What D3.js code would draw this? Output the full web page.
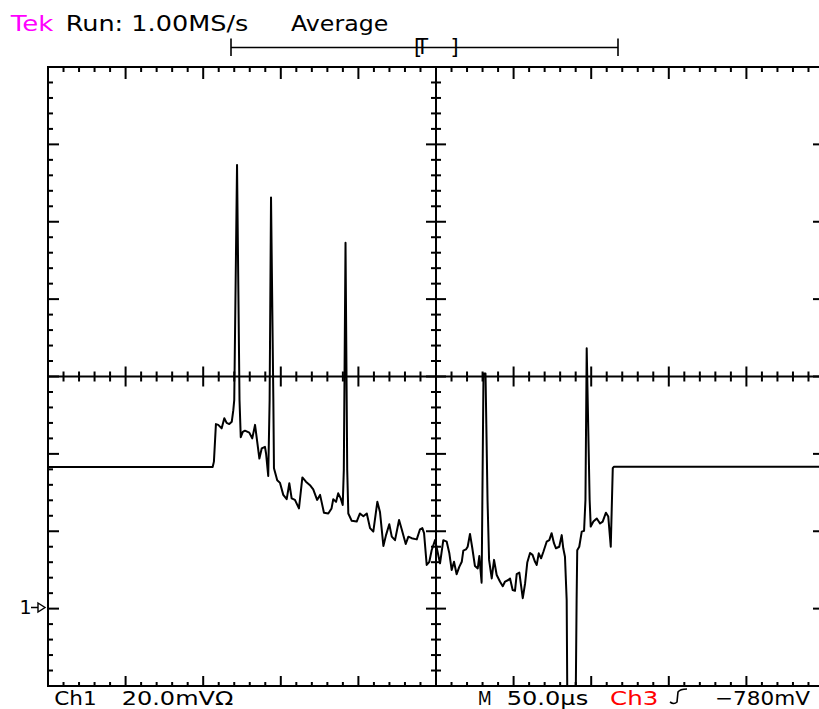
<!DOCTYPE html>
<html>
<head>
<meta charset="utf-8">
<script src="https://cdn.jsdelivr.net/npm/d3@7"></script>
<style>
  body { margin: 0; background: #fff; }
  svg { display: block; }
  text { font-family: "DejaVu Sans", sans-serif; }
</style>
</head>
<body>
<script>
// trace: time in microseconds, Ch1 in mV (ground = 0)
const timeUs = [0, 106.1, 106.9, 108.2, 109.7, 111.9, 113.6, 115.1, 116.8, 118.4, 119.4, 120.0, 121.8, 123.4, 124.2, 125.5, 126.9, 129.7, 131.6, 133.4,
  136.2, 137.7, 139.8, 140.5, 141.9, 142.8, 143.7, 145.2, 145.6, 147.7, 149.5, 151.6, 153.8, 155.5, 157.0, 159.1, 161.7, 163.9, 166.2, 168.8,
  170.9, 173.4, 175.3, 177.8, 180.6, 182.7, 183.8, 185.6, 187.0, 188.6, 189.9, 190.6, 191.7, 192.8, 193.5, 195.7, 198.9, 201.0, 203.2, 205.4,
  207.5, 209.6, 212.2, 213.9, 216.1, 217.8, 219.9, 221.5, 223.6, 226.2, 227.9, 230.5, 232.2, 234.3, 237.6, 239.7, 241.2, 242.3, 244.0, 245.7,
  247.2, 249.4, 250.8, 252.6, 254.7, 256.9, 258.6, 260.1, 261.6, 263.3, 265.0, 266.6, 267.6, 269.3, 270.4, 271.9, 273.4, 275.1, 276.9, 277.9,
  279.4, 280.6, 281.9, 283.2, 284.2, 285.9, 287.4, 289.1, 291.2, 293.0, 294.5, 296.6, 297.7, 299.4, 300.9, 302.0, 303.7, 305.9, 307.4, 308.8,
  310.6, 312.2, 313.8, 314.9, 316.2, 317.7, 319.2, 321.3, 323.0, 324.5, 326.0, 327.3, 329.4, 331.0, 332.0, 333.1, 334.2, 334.7, 339.9, 340.6,
  341.0, 342.3, 343.9, 345.4, 346.3, 347.1, 349.0, 349.7, 351.4, 353.6, 355.7, 357.4, 359.5, 361.0, 362.6, 363.9, 364.7, 500];
const ch1mV = [36.6, 36.6, 38.0, 47.7, 47.5, 46.6, 49.2, 48.0, 47.7, 48.3, 51.3, 53.9, 114.7, 53.9, 44.3, 45.7, 46.0, 45.5, 44.0, 47.5,
  38.8, 41.4, 41.8, 40.1, 34.3, 53.9, 106.3, 53.9, 36.3, 33.2, 32.5, 29.4, 28.3, 32.4, 28.5, 28.1, 25.9, 33.9, 32.8, 31.9,
  30.8, 28.1, 29.4, 24.8, 24.6, 25.9, 28.3, 27.6, 29.8, 28.5, 26.8, 35.8, 94.6, 35.8, 24.6, 22.7, 22.5, 24.6, 23.9, 24.6,
  20.8, 19.9, 27.6, 25.0, 16.2, 19.0, 21.8, 18.6, 17.7, 22.9, 20.5, 16.7, 18.6, 18.2, 17.9, 20.5, 20.8, 19.5, 11.3, 12.1,
  15.1, 17.7, 15.1, 11.7, 17.7, 17.3, 14.3, 10.0, 12.1, 8.9, 10.8, 12.1, 15.0, 15.3, 16.0, 19.3, 15.6, 11.0, 10.4, 13.6,
  6.7, 60.8, 60.8, 28.1, 12.6, 7.8, 12.6, 8.7, 7.0, 5.8, 7.0, 7.4, 7.8, 4.8, 4.6, 8.9, 9.3, 2.7, 6.5, 11.9,
  14.4, 13.9, 12.1, 11.3, 14.3, 13.0, 14.7, 17.3, 17.7, 19.5, 16.9, 15.6, 16.0, 19.0, 15.6, 13.4, 2.2, -28.8, -28.8, 2.2,
  15.1, 16.0, 19.9, 20.1, 28.1, 67.3, 28.1, 21.2, 22.5, 23.3, 22.0, 22.5, 24.8, 23.8, 16.0, 36.3, 36.7, 36.7];

const headerTexts = ["Tek", "Run: 1.00MS/s", "Average"];
const footerTexts = ["Ch1", "20.0mV\u03A9", "M", "50.0\u00B5s", "Ch3", "\u2212780mV"];

const W = 819, H = 709;
const svg = d3.select("body").append("svg").attr("width", W).attr("height", H);

// 10 x 8 divisions, 50 us/div and 20 mV/div; right edge falls just off screen
const x = d3.scaleLinear().domain([0, 500]).range([48, 824]);
const y = d3.scaleLinear().domain([-20, 140]).range([686, 67]);

const g = svg.append("g").attr("stroke", "#000").attr("stroke-width", 2).attr("fill", "none");

// frame and centre cross
g.append("rect").attr("x", x(0)).attr("y", y(140)).attr("width", x(500) - x(0)).attr("height", y(-20) - y(140));
g.append("line").attr("x1", x(0)).attr("x2", x(500)).attr("y1", y(60)).attr("y2", y(60));
g.append("line").attr("x1", x(250)).attr("x2", x(250)).attr("y1", y(140)).attr("y2", y(-20));

const xMinor = d3.range(10, 500, 10);
const yMinor = d3.range(-16, 140, 4);

xMinor.forEach(function(t) {
  var major = t % 50 === 0;
  var px = x(t);
  g.append("line").attr("x1", px).attr("x2", px).attr("y1", y(140)).attr("y2", y(140) + (major ? 12 : 5));
  g.append("line").attr("x1", px).attr("x2", px).attr("y1", y(-20)).attr("y2", y(-20) - (major ? 10 : 4));
  g.append("line").attr("x1", px).attr("x2", px).attr("y1", y(60) - (major ? 10 : 5)).attr("y2", y(60) + (major ? 10 : 5));
});

yMinor.forEach(function(v) {
  var major = v % 20 === 0;
  var py = y(v);
  g.append("line").attr("x1", x(0)).attr("x2", x(0) + (major ? 11 : 5)).attr("y1", py).attr("y2", py);
  g.append("line").attr("x1", x(500)).attr("x2", x(500) - (major ? 11 : 5)).attr("y1", py).attr("y2", py);
  g.append("line").attr("x1", x(250) - (major ? 10 : 5)).attr("x2", x(250) + (major ? 10 : 5)).attr("y1", py).attr("y2", py);
});

// the trace, clipped to the graticule
svg.append("clipPath").attr("id", "screen")
  .append("rect").attr("x", x(0)).attr("y", y(140)).attr("width", x(500) - x(0)).attr("height", y(-20) - y(140));

const line = d3.line().x(function(d, i) { return x(timeUs[i]); }).y(function(d) { return y(d); });
svg.append("path")
  .datum(ch1mV)
  .attr("clip-path", "url(#screen)")
  .attr("fill", "none")
  .attr("stroke", "#000")
  .attr("stroke-width", 2)
  .attr("stroke-linejoin", "round")
  .attr("d", line);

// record length bar with trigger position bracket
const barG = svg.append("g").attr("stroke", "#000").attr("stroke-width", 1.6);
barG.append("line").attr("x1", 231).attr("x2", 618).attr("y1", 47.5).attr("y2", 47.5);
barG.append("line").attr("x1", 231).attr("x2", 231).attr("y1", 38.5).attr("y2", 56);
barG.append("line").attr("x1", 618).attr("x2", 618).attr("y1", 38.5).attr("y2", 56);
// one text element, each glyph placed on its own x
svg.append("text").attr("x", "411 416 449").attr("y", 54).attr("font-size", 21)
  .style("font-family", "'DejaVu Sans Mono', monospace")
  .text("[T]");

// header
const hdr = [[10.7, 42.6, "#ff00ff"], [65.7, 182.6, "#000"], [291, 97.3, "#000"]];
headerTexts.forEach(function(s, i) {
  svg.append("text").attr("x", hdr[i][0]).attr("y", 30.5).attr("font-size", 22)
    .attr("textLength", hdr[i][1]).attr("lengthAdjust", "spacingAndGlyphs")
    .attr("fill", hdr[i][2]).text(s);
});

// footer
const ftr = [[54.3, 42.4, "#000"], [121.7, 111.6, "#000"], [477.7, 14, "#000"], [506.7, 81.6, "#000"], [610, 48.3, "#ff0000"], [715, 95, "#000"]];
footerTexts.forEach(function(s, i) {
  svg.append("text").attr("x", ftr[i][0]).attr("y", 704.5).attr("font-size", 20)
    .attr("textLength", ftr[i][1]).attr("lengthAdjust", "spacingAndGlyphs")
    .attr("fill", ftr[i][2]).text(s);
});

// rising-edge trigger slope symbol
svg.append("path").attr("d", "M670,702 Q674,705 677,702 L678,692 Q680,689 687,689")
  .attr("fill", "none").attr("stroke", "#000").attr("stroke-width", 1.6);

// ground marker for channel 1
svg.append("text").attr("x", 19.5).attr("y", 614).attr("font-size", 19).attr("fill", "#000").text("1");
svg.append("path").attr("d", "M31,607.5 L38,607.5 M38,603 L45,607.5 L38,612 Z")
  .attr("fill", "#fff").attr("stroke", "#000").attr("stroke-width", 1.4);
</script>
</body>
</html>
